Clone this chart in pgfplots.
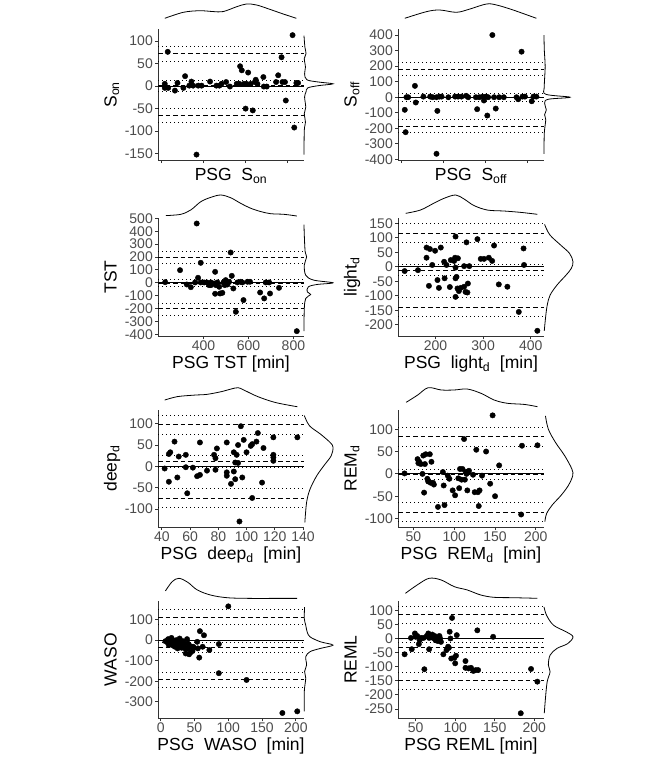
\documentclass[border=0pt]{standalone}
\usepackage{fontspec}
\setmainfont{Liberation Sans}
\usepackage{pgfplots}
\pgfplotsset{compat=1.18}
\pgfplotsset{
  ba/.style={scale only axis, width=146pt, clip=false,
    axis x line*=bottom, axis y line*=left,
    axis line style={-, line width=0.9pt, black!80},
    tick align=outside, major tick length=3pt,
    tick style={line width=0.9pt, black!80},
    ticklabel style={font=\fontsize{14}{16}\selectfont, text=black!70},
    xticklabel style={inner sep=1.5pt},
    yticklabel style={inner sep=2pt},
    /pgf/number format/assume math mode=true,
    /pgf/number format/1000 sep={},
    label style={font=\fontsize{17.5}{20}\selectfont, text=black, inner sep=0.5pt},
    ylabel style={at={(axis description cs:-0.2842,0.5)}, anchor=base},
  },
  pts/.style={only marks, mark=*, mark size=2.7pt, mark options={fill=black, draw=black}},
  ln0/.style={black, line width=0.8pt},
  lnd/.style={black, line width=0.8pt, dash pattern=on 4.5pt off 3pt},
  lnp/.style={black, line width=0.9pt, dash pattern=on 1pt off 3pt},
  topd/.style={hide axis, scale only axis, width=146pt, ymin=0, ymax=1, clip=false},
  rgtd/.style={hide axis, scale only axis, width=29pt, xmin=0, xmax=1, clip=false},
  dens/.style={black, line width=0.8pt, smooth, tension=0.55},
}
\newcommand\hl[4]{\addplot[#1] coordinates {(#2,#4) (#3,#4)};}
\begin{document}
\begin{tikzpicture}
\useasboundingbox (0,0) rectangle (666pt,-769pt);
% ================= Panel 1: S_on =================
\begin{axis}[ba, height=130.7pt, at={(158pt,-29.3pt)}, anchor=north west,
  xmin=-0.07, xmax=3.38, ymin=-164, ymax=126,
  xtick={0,1,2,3}, xticklabels={}, ytick={-150,-100,-50,0,50,100},
  xlabel={PSG\ \ S\textsubscript{on}}, ylabel={S\textsubscript{on}},
  xlabel style={at={(axis description cs:0.5,-0.16)}, anchor=base}]
\hl{ln0}{-0.07}{3.38}{0}
\hl{lnd}{-0.07}{3.38}{72}\hl{lnd}{-0.07}{3.38}{1}\hl{lnd}{-0.07}{3.38}{-64}
\hl{lnp}{-0.07}{3.38}{87}\hl{lnp}{-0.07}{3.38}{55.5}\hl{lnp}{-0.07}{3.38}{12.6}
\hl{lnp}{-0.07}{3.38}{-11}\hl{lnp}{-0.07}{3.38}{-49}\hl{lnp}{-0.07}{3.38}{-81}
\addplot[pts] coordinates {(0.16,76) (0.09,5) (0.09,-4) (0.17,-4) (0.33,-10) (0.39,7) (0.57,22) (0.53,-4) (0.67,1) (0.72,10) (0.76,1) (0.84,-152) (0.88,1) (0.96,1) (1.16,10) (1.31,1) (1.38,1) (1.43,5) (1.54,9) (1.63,-1) (1.79,5) (1.85,5) (1.87,44) (1.91,35) (1.96,5) (2.0,-50) (2.02,5) (2.06,30) (2.12,5) (2.17,-54) (2.22,9) (2.24,14) (2.28,5) (2.42,20) (2.43,-1) (2.5,-1) (2.72,9) (2.77,24) (2.85,64) (2.87,9) (2.93,9) (2.95,-32) (3.11,113) (3.15,-92) (3.2,7) (3.24,7)};
\end{axis}
\begin{axis}[topd, height=14.3pt, at={(158pt,-18.3pt)}, anchor=south west, xmin=-0.07, xmax=3.38]
\addplot[dens] coordinates {(0.09,0) (0.53,0.42) (0.92,0.53) (1.24,0.47) (1.47,0.47) (1.79,0.81) (2.02,1) (2.26,0.93) (2.57,0.63) (2.89,0.3) (3.2,0)};
\end{axis}
\begin{axis}[rgtd, height=130.7pt, at={(304pt,-29.3pt)}, anchor=north west, ymin=-164, ymax=126]
\addplot[dens] coordinates {(0,112) (0.03,87) (0.07,72) (0.01,61) (0.05,42) (0.02,27) (0.1,14) (0.5,9) (1,5) (0.5,1) (0.13,-4) (0.07,-13) (0.02,-24) (0.06,-47) (0.01,-61) (0.05,-80) (0.01,-98) (0,-152)};
\end{axis}
% ================= Panel 2: S_off =================
\begin{axis}[ba, height=130.7pt, at={(398pt,-29.3pt)}, anchor=north west,
  xmin=-0.07, xmax=3.38, ymin=-404, ymax=437,
  xtick={0,1,2,3}, xticklabels={}, ytick={-400,-300,-200,-100,0,100,200,300,400},
  xlabel={PSG\ \ S\textsubscript{off}}, ylabel={S\textsubscript{off}},
  xlabel style={at={(axis description cs:0.5,-0.16)}, anchor=base}]
\hl{ln0}{-0.07}{3.38}{0}
\hl{lnd}{-0.07}{3.38}{180}\hl{lnd}{-0.07}{3.38}{-1}\hl{lnd}{-0.07}{3.38}{-188}
\hl{lnp}{-0.07}{3.38}{222}\hl{lnp}{-0.07}{3.38}{137}\hl{lnp}{-0.07}{3.38}{26}
\hl{lnp}{-0.07}{3.38}{-28}\hl{lnp}{-0.07}{3.38}{-141}\hl{lnp}{-0.07}{3.38}{-227}
\addplot[pts] coordinates {(0.09,-81) (0.11,-225) (0.13,0) (0.17,0) (0.33,73) (0.35,-34) (0.53,4) (0.69,4) (0.75,0) (0.84,0) (0.86,-88) (0.84,-364) (0.91,4) (0.96,4) (1.12,0) (1.28,4) (1.35,4) (1.43,4) (1.54,9) (1.59,0) (1.77,0) (1.80,-77) (1.85,0) (1.93,4) (1.96,-21) (2.01,4) (2.04,-118) (2.06,0) (2.16,400) (2.20,0) (2.24,-73) (2.32,0) (2.43,0) (2.73,0) (2.77,-13) (2.85,293) (2.87,4) (2.93,4) (3.09,-26) (3.13,4) (3.20,4)};
\end{axis}
\begin{axis}[topd, height=14.3pt, at={(398pt,-18.3pt)}, anchor=south west, xmin=-0.07, xmax=3.38]
\addplot[dens] coordinates {(0.09,0) (0.61,0.47) (0.92,0.58) (1.31,0.42) (1.63,0.65) (2.02,1) (2.26,0.93) (2.65,0.58) (3.2,0)};
\end{axis}
\begin{axis}[rgtd, height=130.7pt, at={(544pt,-29.3pt)}, anchor=north west, ymin=-404, ymax=437]
\addplot[dens] coordinates {(0,400) (0.01,304) (0.04,197) (0.01,68) (0.06,19) (0.9,0) (0.15,-13) (0.02,-38) (0.08,-81) (0.02,-113) (0.06,-145) (0.01,-231) (0,-364)};
\end{axis}
% ================= Panel 3: TST =================
\begin{axis}[ba, height=118.6pt, at={(158pt,-217.7pt)}, anchor=north west,
  xmin=198, xmax=847, ymin=-415, ymax=505,
  xtick={400,600,800}, ytick={-400,-300,-200,-100,0,100,200,300,400,500},
  xlabel={PSG TST [min]}, ylabel={TST},
  xlabel style={at={(axis description cs:0.5,-0.274)}, anchor=base}]
\hl{ln0}{198}{847}{0}
\hl{lnd}{198}{847}{199}\hl{lnd}{198}{847}{-2}\hl{lnd}{198}{847}{-199}
\hl{lnp}{198}{847}{245}\hl{lnp}{198}{847}{147}\hl{lnp}{198}{847}{26}
\hl{lnp}{198}{847}{-31}\hl{lnp}{198}{847}{-158}\hl{lnp}{198}{847}{-256}
\addplot[pts] coordinates {(230,5) (296,98) (326,-13) (344,-34) (363,3) (376,39) (370,460) (388,155) (388,3) (403,3) (415,3) (425,-18) (433,3) (433,-18) (447,-5) (452,85) (452,-85) (455,-18) (462,3) (470,-31) (474,-83) (484,-78) (489,3) (495,-18) (499,21) (507,-13) (514,8) (521,235) (526,54) (533,-44) (544,-225) (551,3) (566,8) (573,3) (578,-134) (596,8) (607,8) (652,-75) (670,-121) (677,3) (692,3) (696,-83) (736,-39) (815,-375)};
\end{axis}
\begin{axis}[topd, height=21pt, at={(158pt,-216pt)}, anchor=south west, xmin=198, xmax=847]
\addplot[dens] coordinates {(233,0.02) (299,0.08) (344,0.29) (388,0.68) (433,0.89) (477,1) (521,0.87) (566,0.6) (610,0.37) (655,0.21) (699,0.11) (758,0.08) (815,0)};
\end{axis}
\begin{axis}[rgtd, height=118.6pt, at={(304pt,-217.7pt)}, anchor=north west, ymin=-415, ymax=505]
\addplot[dens] coordinates {(0,452) (0.01,370) (0.04,240) (0.09,202) (0.01,137) (0.06,59) (0.33,21) (1,0) (0.45,-13) (0.15,-31) (0.11,-70) (0.23,-90) (0.06,-121) (0.01,-199) (0,-375)};
\end{axis}
% ================= Panel 4: light_d =================
\begin{axis}[ba, height=118.6pt, at={(398pt,-217.7pt)}, anchor=north west,
  xmin=121, xmax=428, ymin=-240, ymax=169,
  xtick={200,300,400}, ytick={-200,-150,-100,-50,0,50,100,150},
  xlabel={PSG\ \ light\textsubscript{d}\ \ [min]}, ylabel={light\textsubscript{d}},
  xlabel style={at={(axis description cs:0.5,-0.274)}, anchor=base}]
\hl{ln0}{121}{428}{0}
\hl{lnd}{121}{428}{115}\hl{lnd}{121}{428}{-12}\hl{lnd}{121}{428}{-142}
\hl{lnp}{121}{428}{150}\hl{lnp}{121}{428}{84}\hl{lnp}{121}{428}{8}
\hl{lnp}{121}{428}{-31}\hl{lnp}{121}{428}{-107}\hl{lnp}{121}{428}{-173}
\addplot[pts] coordinates {(135,-15) (163,-12) (181,31) (181,66) (186,-66) (188,61) (193,6) (199,55) (204,-46) (207,-73) (211,66) (218,17) (219,-40) (223,6) (230,-70) (232,23) (239,20) (241,31) (242,-40) (242,104) (242,-3) (242,-104) (244,-35) (246,-75) (247,29) (249,-84) (253,-73) (260,2) (260,-69) (263,-87) (265,84) (267,-89) (268,-58) (271,2) (288,95) (295,27) (302,27) (312,31) (319,20) (323,73) (333,-61) (351,-69) (375,-156) (385,63) (386,6) (414,-221)};
\end{axis}
\begin{axis}[topd, height=19.3pt, at={(398pt,-214.3pt)}, anchor=south west, xmin=121, xmax=428]
\addplot[dens] coordinates {(137,0.05) (168,0.22) (196,0.57) (218,0.83) (242,1) (260,0.79) (281,0.45) (309,0.22) (344,0.17) (379,0.1) (414,0)};
\end{axis}
\begin{axis}[rgtd, height=118.6pt, at={(544pt,-217.7pt)}, anchor=north west, ymin=-240, ymax=169]
\addplot[dens] coordinates {(0.02,146) (0.2,110) (0.57,75) (0.88,46) (1,17) (0.94,-6) (0.76,-29) (0.45,-63) (0.21,-98) (0.11,-133) (0.05,-179) (0.01,-221)};
\end{axis}
% ================= Panel 5: deep_d =================
\begin{axis}[ba, height=117pt, at={(158pt,-410pt)}, anchor=north west,
  xmin=37.3, xmax=140.7, ymin=-142, ymax=132,
  xtick={40,60,80,100,120,140}, ytick={-100,-50,0,50,100},
  xlabel={PSG\ \ deep\textsubscript{d}\ \ [min]}, ylabel={deep\textsubscript{d}},
  xlabel style={at={(axis description cs:0.5,-0.278)}, anchor=base}]
\hl{ln0}{37.3}{140.7}{0}
\hl{lnd}{37.3}{140.7}{98}\hl{lnd}{37.3}{140.7}{12}\hl{lnd}{37.3}{140.7}{-74}
\hl{lnp}{37.3}{140.7}{120}\hl{lnp}{37.3}{140.7}{74}\hl{lnp}{37.3}{140.7}{25}
\hl{lnp}{37.3}{140.7}{-2}\hl{lnp}{37.3}{140.7}{-52}\hl{lnp}{37.3}{140.7}{-96}
\addplot[pts] coordinates {(42,-5) (45,-36) (45,29) (46,33) (49,58) (51,-26) (52,23) (57,27) (57,-2) (58,-63) (62,-3) (65,-23) (67,56) (67,-20) (72,-10) (77,27) (78,-8) (78,19) (79,42) (86,56) (86,-14) (86,-22) (89,-41) (91,33) (91,-12) (92,9) (92,-30) (93,27) (94,50) (94,8) (95,-129) (96,94) (97,-26) (98,62) (100,33) (103,48) (104,52) (104,-74) (107,58) (108,78) (111,-38) (112,43) (119,68) (119,27) (119,21) (119,13) (136,68)};
\end{axis}
\begin{axis}[topd, height=19pt, at={(158pt,-406.7pt)}, anchor=south west, xmin=37.3, xmax=140.7]
\addplot[dens] coordinates {(42,0.35) (51,0.53) (63,0.61) (72,0.65) (82,0.79) (89,0.93) (94,1) (98,0.88) (108,0.53) (120,0.23) (132,0.05) (136,0)};
\end{axis}
\begin{axis}[rgtd, height=117pt, at={(304pt,-410pt)}, anchor=north west, ymin=-142, ymax=132]
\addplot[dens] coordinates {(0.01,119) (0.19,95) (0.56,76) (0.9,56) (1,45) (0.94,25) (0.69,2) (0.44,-22) (0.21,-53) (0.09,-84) (0.03,-131)};
\end{axis}
% ================= Panel 6: REM_d =================
\begin{axis}[ba, height=117pt, at={(398pt,-410pt)}, anchor=north west,
  xmin=31, xmax=210, ymin=-119, ymax=143,
  xtick={50,100,150,200}, ytick={-100,-50,0,50,100},
  xlabel={PSG\ \ REM\textsubscript{d}\ \ [min]}, ylabel={REM\textsubscript{d}},
  xlabel style={at={(axis description cs:0.5,-0.278)}, anchor=base}]
\hl{ln0}{31}{210}{0}
\hl{lnd}{31}{210}{83}\hl{lnd}{31}{210}{-1.5}\hl{lnd}{31}{210}{-86}
\hl{lnp}{31}{210}{104}\hl{lnp}{31}{210}{61}\hl{lnp}{31}{210}{10}
\hl{lnp}{31}{210}{-13}\hl{lnp}{31}{210}{-64}\hl{lnp}{31}{210}{-107}
\addplot[pts] coordinates {(39,1) (55,33) (56,24) (57,27) (59,22) (61,0) (62,41) (63,-42) (64,22) (65,44) (67,-11) (68,-17) (70,44) (71,-20) (72,27) (74,-20) (75,-24) (80,-74) (86,4) (87,-26) (88,-70) (92,-4) (94,-11) (98,-37) (101,-48) (105,-10) (106,-32) (107,11) (109,-13) (110,11) (112,78) (113,-13) (114,4) (115,0) (116,-37) (118,7) (123,-2) (125,-41) (127,54) (129,-41) (130,-72) (131,-37) (134,-4) (139,50) (144,-22) (147,131) (150,-50) (155,19) (182,-91) (183,63) (202,64)};
\end{axis}
\begin{axis}[topd, height=19pt, at={(398pt,-406.7pt)}, anchor=south west, xmin=31, xmax=210]
\addplot[dens] coordinates {(41,0.23) (55,0.61) (68,1) (84,0.88) (100,0.88) (116,0.93) (133,0.7) (149,0.35) (165,0.18) (186,0.12) (202,0)};
\end{axis}
\begin{axis}[rgtd, height=117pt, at={(544pt,-410pt)}, anchor=north west, ymin=-119, ymax=143]
\addplot[dens] coordinates {(0.05,130) (0.15,100) (0.4,70) (0.71,41) (0.96,11) (0.99,-4) (0.84,-26) (0.59,-48) (0.28,-70) (0.09,-89) (0.03,-107)};
\end{axis}
% ================= Panel 7: WASO =================
\begin{axis}[ba, height=117.3pt, at={(158pt,-601pt)}, anchor=north west,
  xmin=-4, xmax=212, ymin=-381, ymax=191,
  xtick={0,50,100,150,200}, ytick={-300,-200,-100,0,100},
  xlabel={PSG\ \ WASO\ \ [min]}, ylabel={WASO},
  xlabel style={at={(axis description cs:0.5,-0.277)}, anchor=base}]
\hl{ln0}{-4}{212}{0}
\hl{lnd}{-4}{212}{113}\hl{lnd}{-4}{212}{-35}\hl{lnd}{-4}{212}{-189}
\hl{lnp}{-4}{212}{148}\hl{lnp}{-4}{212}{76}\hl{lnp}{-4}{212}{-11}
\hl{lnp}{-4}{212}{-60}\hl{lnp}{-4}{212}{-156}\hl{lnp}{-4}{212}{-229}
\addplot[pts] coordinates {(7,-5) (10,-11) (11,5) (12,-24) (14,-16) (15,0) (16,-21) (16,11) (17,-8) (19,-27) (20,-5) (21,-32) (22,-16) (23,0) (24,-24) (25,-40) (26,-8) (27,-32) (28,8) (29,-21) (30,-11) (31,-37) (32,-24) (33,-5) (34,-32) (35,-16) (36,-40) (37,-65) (39,5) (40,-40) (40,-16) (42,-24) (42,-69) (44,-60) (45,-32) (47,-53) (48,-32) (49,-37) (54,-8) (55,-40) (57,-85) (58,44) (62,-32) (64,24) (72,-48) (86,-19) (86,-161) (100,165) (127,-194) (180,-355) (202,-347)};
\end{axis}
\begin{axis}[topd, height=20.7pt, at={(158pt,-599pt)}, anchor=south west, xmin=-4, xmax=212]
\addplot[dens] coordinates {(7,0.39) (17,0.84) (27,1) (40,0.81) (54,0.44) (74,0.19) (99,0.06) (133,0.03) (168,0.03) (202,0.03)};
\end{axis}
\begin{axis}[rgtd, height=117.3pt, at={(304pt,-601pt)}, anchor=north west, ymin=-381, ymax=191]
\addplot[dens] coordinates {(0.02,161) (0.01,105) (0.06,73) (0.11,40) (0.21,16) (0.57,-8) (1,-24) (0.57,-40) (0.21,-56) (0.06,-81) (0.09,-121) (0.02,-153) (0.06,-185) (0.01,-250) (0.01,-347)};
\end{axis}
% ================= Panel 8: REML =================
\begin{axis}[ba, height=117.3pt, at={(398pt,-601pt)}, anchor=north west,
  xmin=27.6, xmax=212.4, ymin=-283, ymax=133,
  xtick={50,100,150,200}, ytick={-250,-200,-150,-100,-50,0,50,100},
  xlabel={PSG REML [min]}, ylabel={REML},
  xlabel style={at={(axis description cs:0.5,-0.277)}, anchor=base}]
\hl{ln0}{27.6}{212.4}{0}
\hl{lnd}{27.6}{212.4}{85}\hl{lnd}{27.6}{212.4}{-32}\hl{lnd}{27.6}{212.4}{-149}
\hl{lnp}{27.6}{212.4}{114}\hl{lnp}{27.6}{212.4}{55}\hl{lnp}{27.6}{212.4}{-14}
\hl{lnp}{27.6}{212.4}{-49}\hl{lnp}{27.6}{212.4}{-120}\hl{lnp}{27.6}{212.4}{-179}
\addplot[pts] coordinates {(36,-56) (44,2) (45,-38) (49,18) (50,6) (52,9) (54,-20) (55,-6) (57,2) (60,2) (61,-109) (64,9) (66,18) (67,2) (67,-38) (69,9) (71,14) (72,2) (74,9) (75,-6) (77,2) (78,-9) (80,9) (81,0) (82,-12) (85,-56) (89,-41) (91,-29) (92,-33) (93,24) (94,0) (95,-71) (96,73) (99,-68) (100,-88) (101,-61) (102,12) (113,-80) (113,-104) (117,-106) (120,-104) (123,-115) (126,-112) (128,29) (129,-112) (148,6) (183,-265) (196,-108) (204,-153)};
\end{axis}
\begin{axis}[topd, height=20pt, at={(398pt,-598.3pt)}, anchor=south west, xmin=27.6, xmax=212.4]
\addplot[dens] coordinates {(37,0.25) (52,0.67) (67,1) (82,0.92) (99,0.58) (115,0.42) (132,0.17) (149,0.05) (174,0.03) (204,0)};
\end{axis}
\begin{axis}[rgtd, height=117.3pt, at={(544pt,-601pt)}, anchor=north west, ymin=-283, ymax=133]
\addplot[dens] coordinates {(0,112) (0.09,82) (0.33,47) (0.76,24) (1,6) (0.82,-18) (0.45,-35) (0.21,-59) (0.15,-94) (0.21,-118) (0.11,-153) (0.05,-212) (0.01,-265)};
\end{axis}
\end{tikzpicture}
\end{document}
